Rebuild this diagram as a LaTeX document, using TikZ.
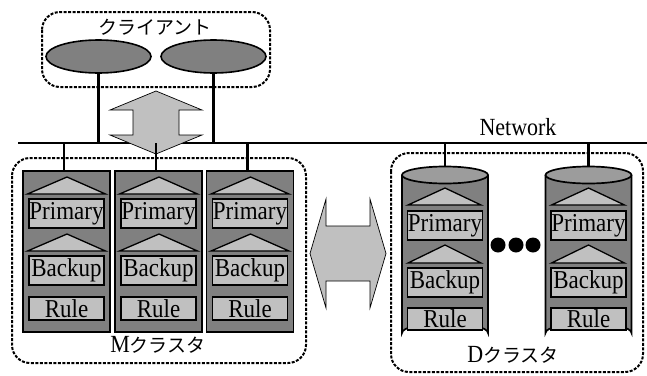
\documentclass[tikz,border=0pt]{standalone}
\usepackage{fontspec}
\setmainfont{Liberation Serif}
\newfontfamily\jp{Noto Sans CJK JP}
\definecolor{dk}{HTML}{808080}
\definecolor{lt}{HTML}{C0C0C0}
\definecolor{cyltop}{HTML}{9C9C9C}
\newcommand{\tall}[1]{\scalebox{1}[1.12]{#1}}
\tikzset{
  group/.style={draw, line width=2pt, dash pattern=on 3pt off 1.5pt, rounded corners=18pt},
  serverbox/.style={draw, fill=dk, line width=1.7pt, minimum width=87pt, minimum height=161pt, inner sep=0pt},
  item/.style={draw, fill=lt, line width=1.3pt, minimum width=75pt, inner sep=0pt, font=\fontsize{23}{23}\selectfont},
  tri/.style={draw, fill=lt, line width=1.3pt},
  client/.style={draw, fill=dk, ellipse, line width=1.6pt, minimum width=105pt, minimum height=33pt, inner sep=0pt},
  wire/.style={line width=2.5pt},
  blockarrow/.style={draw, fill=lt, line width=0.7pt},
  lbl/.style={font=\fontsize{22}{22}\selectfont, inner sep=0pt},
  jlbl/.style={font=\fontsize{19}{19}\jp, inner sep=0pt}
}
\usetikzlibrary{shapes.geometric}
\begin{document}
\begin{tikzpicture}[x=1pt,y=-1pt]
\useasboundingbox (0,0) rectangle (647,375);
% groups
\draw[group] (42,12) rectangle (270,87);
\draw[group] (12,158) rectangle (306,363);
\draw[group] (391,153) rectangle (643,372);
% network
\coordinate (netL) at (18,143);
\coordinate (netR) at (647,143);
\draw[wire] (netL) -- (netR);
\node[lbl] (netlabel) at (518,127) {\tall{Network}};
% clients
\node[jlbl] (clientlabel) at (155,27) {クライアント};
\node[client] (cl1) at (98.5,56.5) {};
\node[client] (cl2) at (213.5,56.5) {};
\draw[wire] (cl1.south) -- (cl1.south |- netL);
\draw[wire] (cl2.south) -- (cl2.south |- netL);
% vertical double arrow
\draw[blockarrow] (156,91) -- (202,110) -- (179,110) -- (179,135) -- (202,135) -- (156,154)
  -- (110,135) -- (133,135) -- (133,110) -- (110,110) -- cycle;
% M cluster servers
\foreach \i/\cx in {1/66.5, 2/158.5, 3/250} {
  \node[serverbox] (s\i) at (\cx,251.5) {};
  \draw[wire] ([xshift=-2.5pt]s\i.north) -- ([xshift=-2.5pt]s\i.north |- netL);
  \draw[tri] (\cx-39,194) -- (\cx+0.5,177) -- (\cx+39,194) -- cycle;
  \node[item, minimum height=29pt] (p\i) at (\cx,213.5) {\tall{Primary}};
  \draw[tri] (\cx-39,251) -- (\cx+0.5,234) -- (\cx+39,251) -- cycle;
  \node[item, minimum height=29pt] (b\i) at (\cx,270.5) {\tall{Backup}};
  \node[item, minimum height=23pt] (r\i) at (\cx,308.5) {\tall{Rule}};
}
\node[inner sep=0pt] (mlabel) at (158,345) {\fontsize{22}{22}\selectfont\tall{M}\fontsize{19}{19}\jp クラスタ};
% horizontal double arrow
\draw[blockarrow] (310,253.5) -- (326,199) -- (326,226) -- (370,226) -- (370,199) -- (386,253.5)
  -- (370,308) -- (370,281) -- (326,281) -- (326,308) -- cycle;
% D cluster cylinders
\foreach \i/\cx in {1/445, 2/588.5} {
  \fill[dk] (\cx-43,175) -- (\cx-43,333) arc (180:360:43 and 10) -- (\cx+43,175) -- cycle;
  \draw[line width=1.7pt] (\cx-43,175) -- (\cx-43,333) arc (180:360:43 and 10) -- (\cx+43,175);
  \node[draw, fill=cyltop, ellipse, line width=1.7pt, minimum width=86pt, minimum height=17pt, inner sep=0pt] (c\i) at (\cx,175) {};
  \draw[wire] (c\i.north) -- (c\i.north |- netL);
  \draw[tri] (\cx-37,205) -- (\cx,188) -- (\cx+36,205) -- cycle;
  \node[item, minimum height=29pt] (dp\i) at (\cx,225.5) {\tall{Primary}};
  \draw[tri] (\cx-37,263) -- (\cx,245) -- (\cx+36,263) -- cycle;
  \node[item, minimum height=29pt] (db\i) at (\cx,282.5) {\tall{Backup}};
  \node[item, minimum height=22pt] (dr\i) at (\cx,319) {\tall{Rule}};
}
\foreach \x [count=\k] in {498,516,533} {
  \fill (\x,245) circle (7.5pt);
}
\node[inner sep=0pt] (dlabel) at (513,355) {\fontsize{22}{22}\selectfont\tall{D}\fontsize{19}{19}\jp クラスタ};
\end{tikzpicture}
\end{document}
